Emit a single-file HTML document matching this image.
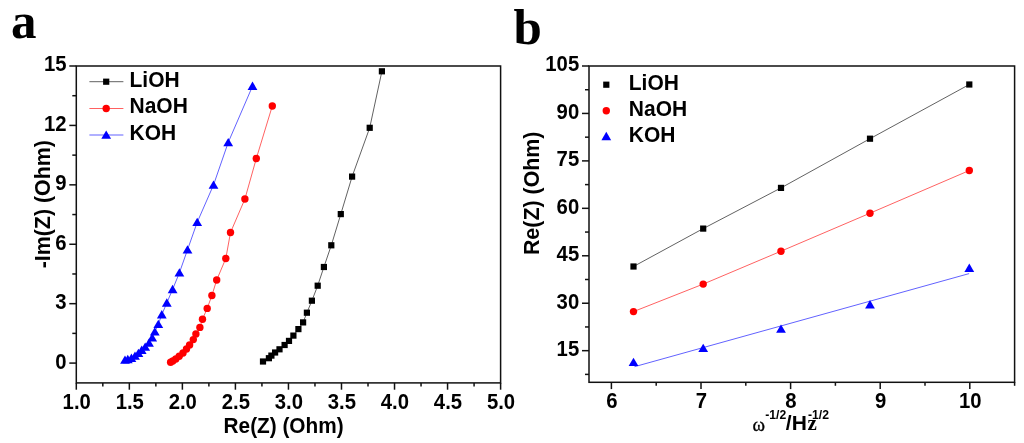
<!DOCTYPE html>
<html><head><meta charset="utf-8"><style>
html,body{margin:0;padding:0;background:#fff;}
body{width:1024px;height:443px;overflow:hidden;}
svg{display:block;will-change:transform;}
.sr{font-family:"Liberation Serif", serif;fill:#000;}
.t{font-family:"Liberation Sans", sans-serif;font-weight:bold;font-size:21px;fill:#000;}
</style></head><body>
<svg width="1024" height="443" viewBox="0 0 1024 443">
<rect x="76.3" y="66.0" width="424.3" height="316.9" fill="none" stroke="#111" stroke-width="1.5"/>
<line x1="69.3" y1="363.09" x2="76.3" y2="363.09" stroke="#111" stroke-width="1.5"/>
<text transform="translate(66.5,368.56) scale(1,1.1)" text-anchor="end" class="t" style="font-size:20.3px">0</text>
<line x1="69.3" y1="303.67" x2="76.3" y2="303.67" stroke="#111" stroke-width="1.5"/>
<text transform="translate(66.5,309.05) scale(1,1.1)" text-anchor="end" class="t" style="font-size:20.3px">3</text>
<line x1="69.3" y1="244.26" x2="76.3" y2="244.26" stroke="#111" stroke-width="1.5"/>
<text transform="translate(66.5,249.54) scale(1,1.1)" text-anchor="end" class="t" style="font-size:20.3px">6</text>
<line x1="69.3" y1="184.84" x2="76.3" y2="184.84" stroke="#111" stroke-width="1.5"/>
<text transform="translate(66.5,190.02) scale(1,1.1)" text-anchor="end" class="t" style="font-size:20.3px">9</text>
<line x1="69.3" y1="125.42" x2="76.3" y2="125.42" stroke="#111" stroke-width="1.5"/>
<text transform="translate(66.5,130.51) scale(1,1.1)" text-anchor="end" class="t" style="font-size:20.3px">12</text>
<line x1="69.3" y1="66.00" x2="76.3" y2="66.00" stroke="#111" stroke-width="1.5"/>
<text transform="translate(66.5,71.00) scale(1,1.1)" text-anchor="end" class="t" style="font-size:20.3px">15</text>
<line x1="72.3" y1="333.38" x2="76.3" y2="333.38" stroke="#111" stroke-width="1.5"/>
<line x1="72.3" y1="273.97" x2="76.3" y2="273.97" stroke="#111" stroke-width="1.5"/>
<line x1="72.3" y1="214.55" x2="76.3" y2="214.55" stroke="#111" stroke-width="1.5"/>
<line x1="72.3" y1="155.13" x2="76.3" y2="155.13" stroke="#111" stroke-width="1.5"/>
<line x1="72.3" y1="95.71" x2="76.3" y2="95.71" stroke="#111" stroke-width="1.5"/>
<line x1="76.30" y1="382.9" x2="76.30" y2="389.7" stroke="#111" stroke-width="1.5"/>
<text transform="translate(76.70,409.00) scale(1,1.1)" text-anchor="middle" class="t" style="font-size:20.3px">1.0</text>
<line x1="129.34" y1="382.9" x2="129.34" y2="389.7" stroke="#111" stroke-width="1.5"/>
<text transform="translate(129.74,409.00) scale(1,1.1)" text-anchor="middle" class="t" style="font-size:20.3px">1.5</text>
<line x1="182.38" y1="382.9" x2="182.38" y2="389.7" stroke="#111" stroke-width="1.5"/>
<text transform="translate(182.78,409.00) scale(1,1.1)" text-anchor="middle" class="t" style="font-size:20.3px">2.0</text>
<line x1="235.41" y1="382.9" x2="235.41" y2="389.7" stroke="#111" stroke-width="1.5"/>
<text transform="translate(235.81,409.00) scale(1,1.1)" text-anchor="middle" class="t" style="font-size:20.3px">2.5</text>
<line x1="288.45" y1="382.9" x2="288.45" y2="389.7" stroke="#111" stroke-width="1.5"/>
<text transform="translate(288.85,409.00) scale(1,1.1)" text-anchor="middle" class="t" style="font-size:20.3px">3.0</text>
<line x1="341.49" y1="382.9" x2="341.49" y2="389.7" stroke="#111" stroke-width="1.5"/>
<text transform="translate(341.89,409.00) scale(1,1.1)" text-anchor="middle" class="t" style="font-size:20.3px">3.5</text>
<line x1="394.53" y1="382.9" x2="394.53" y2="389.7" stroke="#111" stroke-width="1.5"/>
<text transform="translate(394.93,409.00) scale(1,1.1)" text-anchor="middle" class="t" style="font-size:20.3px">4.0</text>
<line x1="447.56" y1="382.9" x2="447.56" y2="389.7" stroke="#111" stroke-width="1.5"/>
<text transform="translate(447.96,409.00) scale(1,1.1)" text-anchor="middle" class="t" style="font-size:20.3px">4.5</text>
<line x1="500.60" y1="382.9" x2="500.60" y2="389.7" stroke="#111" stroke-width="1.5"/>
<text transform="translate(501.00,409.00) scale(1,1.1)" text-anchor="middle" class="t" style="font-size:20.3px">5.0</text>
<line x1="102.82" y1="382.9" x2="102.82" y2="386.4" stroke="#111" stroke-width="1.5"/>
<line x1="155.86" y1="382.9" x2="155.86" y2="386.4" stroke="#111" stroke-width="1.5"/>
<line x1="208.89" y1="382.9" x2="208.89" y2="386.4" stroke="#111" stroke-width="1.5"/>
<line x1="261.93" y1="382.9" x2="261.93" y2="386.4" stroke="#111" stroke-width="1.5"/>
<line x1="314.97" y1="382.9" x2="314.97" y2="386.4" stroke="#111" stroke-width="1.5"/>
<line x1="368.01" y1="382.9" x2="368.01" y2="386.4" stroke="#111" stroke-width="1.5"/>
<line x1="421.04" y1="382.9" x2="421.04" y2="386.4" stroke="#111" stroke-width="1.5"/>
<line x1="474.08" y1="382.9" x2="474.08" y2="386.4" stroke="#111" stroke-width="1.5"/>
<rect x="589.0" y="66.0" width="425.6" height="316.3" fill="none" stroke="#111" stroke-width="1.5"/>
<line x1="582.0" y1="350.67" x2="589.0" y2="350.67" stroke="#111" stroke-width="1.5"/>
<text transform="translate(579.2,356.12) scale(1,1.1)" text-anchor="end" class="t" style="font-size:20.3px">15</text>
<line x1="582.0" y1="303.23" x2="589.0" y2="303.23" stroke="#111" stroke-width="1.5"/>
<text transform="translate(579.2,308.60) scale(1,1.1)" text-anchor="end" class="t" style="font-size:20.3px">30</text>
<line x1="582.0" y1="255.78" x2="589.0" y2="255.78" stroke="#111" stroke-width="1.5"/>
<text transform="translate(579.2,261.08) scale(1,1.1)" text-anchor="end" class="t" style="font-size:20.3px">45</text>
<line x1="582.0" y1="208.33" x2="589.0" y2="208.33" stroke="#111" stroke-width="1.5"/>
<text transform="translate(579.2,213.56) scale(1,1.1)" text-anchor="end" class="t" style="font-size:20.3px">60</text>
<line x1="582.0" y1="160.89" x2="589.0" y2="160.89" stroke="#111" stroke-width="1.5"/>
<text transform="translate(579.2,166.04) scale(1,1.1)" text-anchor="end" class="t" style="font-size:20.3px">75</text>
<line x1="582.0" y1="113.44" x2="589.0" y2="113.44" stroke="#111" stroke-width="1.5"/>
<text transform="translate(579.2,118.52) scale(1,1.1)" text-anchor="end" class="t" style="font-size:20.3px">90</text>
<line x1="582.0" y1="66.00" x2="589.0" y2="66.00" stroke="#111" stroke-width="1.5"/>
<text transform="translate(579.2,71.00) scale(1,1.1)" text-anchor="end" class="t" style="font-size:20.3px">105</text>
<line x1="585.0" y1="374.39" x2="589.0" y2="374.39" stroke="#111" stroke-width="1.5"/>
<line x1="585.0" y1="326.95" x2="589.0" y2="326.95" stroke="#111" stroke-width="1.5"/>
<line x1="585.0" y1="279.50" x2="589.0" y2="279.50" stroke="#111" stroke-width="1.5"/>
<line x1="585.0" y1="232.06" x2="589.0" y2="232.06" stroke="#111" stroke-width="1.5"/>
<line x1="585.0" y1="184.61" x2="589.0" y2="184.61" stroke="#111" stroke-width="1.5"/>
<line x1="585.0" y1="137.17" x2="589.0" y2="137.17" stroke="#111" stroke-width="1.5"/>
<line x1="585.0" y1="89.72" x2="589.0" y2="89.72" stroke="#111" stroke-width="1.5"/>
<line x1="611.40" y1="382.3" x2="611.40" y2="389.1" stroke="#111" stroke-width="1.5"/>
<text transform="translate(611.80,407.90) scale(1,1.1)" text-anchor="middle" class="t" style="font-size:20.3px">6</text>
<line x1="701.00" y1="382.3" x2="701.00" y2="389.1" stroke="#111" stroke-width="1.5"/>
<text transform="translate(701.40,407.90) scale(1,1.1)" text-anchor="middle" class="t" style="font-size:20.3px">7</text>
<line x1="790.60" y1="382.3" x2="790.60" y2="389.1" stroke="#111" stroke-width="1.5"/>
<text transform="translate(791.00,407.90) scale(1,1.1)" text-anchor="middle" class="t" style="font-size:20.3px">8</text>
<line x1="880.20" y1="382.3" x2="880.20" y2="389.1" stroke="#111" stroke-width="1.5"/>
<text transform="translate(880.60,407.90) scale(1,1.1)" text-anchor="middle" class="t" style="font-size:20.3px">9</text>
<line x1="969.80" y1="382.3" x2="969.80" y2="389.1" stroke="#111" stroke-width="1.5"/>
<text transform="translate(970.20,407.90) scale(1,1.1)" text-anchor="middle" class="t" style="font-size:20.3px">10</text>
<line x1="656.20" y1="382.3" x2="656.20" y2="385.8" stroke="#111" stroke-width="1.5"/>
<line x1="745.80" y1="382.3" x2="745.80" y2="385.8" stroke="#111" stroke-width="1.5"/>
<line x1="835.40" y1="382.3" x2="835.40" y2="385.8" stroke="#111" stroke-width="1.5"/>
<line x1="925.00" y1="382.3" x2="925.00" y2="385.8" stroke="#111" stroke-width="1.5"/>
<line x1="1014.60" y1="382.3" x2="1014.60" y2="385.8" stroke="#111" stroke-width="1.5"/>
<polyline points="381.90,71.30 369.70,127.80 352.10,176.60 340.80,214.10 331.30,245.30 323.90,267.00 317.70,285.70 311.90,300.70 306.90,312.70 303.10,322.40 298.40,329.10 293.40,335.60 289.00,340.90 284.60,345.00 279.50,349.30 275.10,352.50 271.40,355.60 268.90,358.20 263.00,361.50" fill="none" stroke="#000" stroke-width="1.0" stroke-opacity="0.62"/>
<polyline points="272.30,106.00 256.30,158.50 244.90,199.00 230.50,232.50 225.80,258.50 216.70,280.00 211.90,295.50 207.20,308.40 202.50,319.20 199.90,327.40 195.90,334.00 193.30,339.60 189.60,345.00 186.50,349.00 183.00,353.00 179.20,356.30 175.80,359.00 172.80,360.90 170.60,362.20" fill="none" stroke="#f00" stroke-width="1.0" stroke-opacity="0.62"/>
<polyline points="252.50,86.20 228.20,142.50 213.50,185.00 197.20,222.30 187.50,249.80 179.40,272.80 172.60,289.40 166.80,302.90 161.80,314.70 158.30,324.30 154.80,331.80 152.20,337.80 149.00,343.00 145.20,347.00 141.70,350.20 138.40,353.30 135.00,356.00 131.40,358.10 127.80,359.40 125.00,360.00" fill="none" stroke="#00f" stroke-width="1.0" stroke-opacity="0.62"/>
<rect x="378.80" y="68.20" width="6.2" height="6.2" fill="#000"/>
<rect x="366.60" y="124.70" width="6.2" height="6.2" fill="#000"/>
<rect x="349.00" y="173.50" width="6.2" height="6.2" fill="#000"/>
<rect x="337.70" y="211.00" width="6.2" height="6.2" fill="#000"/>
<rect x="328.20" y="242.20" width="6.2" height="6.2" fill="#000"/>
<rect x="320.80" y="263.90" width="6.2" height="6.2" fill="#000"/>
<rect x="314.60" y="282.60" width="6.2" height="6.2" fill="#000"/>
<rect x="308.80" y="297.60" width="6.2" height="6.2" fill="#000"/>
<rect x="303.80" y="309.60" width="6.2" height="6.2" fill="#000"/>
<rect x="300.00" y="319.30" width="6.2" height="6.2" fill="#000"/>
<rect x="295.30" y="326.00" width="6.2" height="6.2" fill="#000"/>
<rect x="290.30" y="332.50" width="6.2" height="6.2" fill="#000"/>
<rect x="285.90" y="337.80" width="6.2" height="6.2" fill="#000"/>
<rect x="281.50" y="341.90" width="6.2" height="6.2" fill="#000"/>
<rect x="276.40" y="346.20" width="6.2" height="6.2" fill="#000"/>
<rect x="272.00" y="349.40" width="6.2" height="6.2" fill="#000"/>
<rect x="268.30" y="352.50" width="6.2" height="6.2" fill="#000"/>
<rect x="265.80" y="355.10" width="6.2" height="6.2" fill="#000"/>
<rect x="259.90" y="358.40" width="6.2" height="6.2" fill="#000"/>
<circle cx="272.30" cy="106.00" r="3.7" fill="#f00"/>
<circle cx="256.30" cy="158.50" r="3.7" fill="#f00"/>
<circle cx="244.90" cy="199.00" r="3.7" fill="#f00"/>
<circle cx="230.50" cy="232.50" r="3.7" fill="#f00"/>
<circle cx="225.80" cy="258.50" r="3.7" fill="#f00"/>
<circle cx="216.70" cy="280.00" r="3.7" fill="#f00"/>
<circle cx="211.90" cy="295.50" r="3.7" fill="#f00"/>
<circle cx="207.20" cy="308.40" r="3.7" fill="#f00"/>
<circle cx="202.50" cy="319.20" r="3.7" fill="#f00"/>
<circle cx="199.90" cy="327.40" r="3.7" fill="#f00"/>
<circle cx="195.90" cy="334.00" r="3.7" fill="#f00"/>
<circle cx="193.30" cy="339.60" r="3.7" fill="#f00"/>
<circle cx="189.60" cy="345.00" r="3.7" fill="#f00"/>
<circle cx="186.50" cy="349.00" r="3.7" fill="#f00"/>
<circle cx="183.00" cy="353.00" r="3.7" fill="#f00"/>
<circle cx="179.20" cy="356.30" r="3.7" fill="#f00"/>
<circle cx="175.80" cy="359.00" r="3.7" fill="#f00"/>
<circle cx="172.80" cy="360.90" r="3.7" fill="#f00"/>
<circle cx="170.60" cy="362.20" r="3.7" fill="#f00"/>
<polygon points="252.50,81.58 257.40,89.98 247.60,89.98" fill="#00f"/>
<polygon points="228.20,137.88 233.10,146.28 223.30,146.28" fill="#00f"/>
<polygon points="213.50,180.38 218.40,188.78 208.60,188.78" fill="#00f"/>
<polygon points="197.20,217.68 202.10,226.08 192.30,226.08" fill="#00f"/>
<polygon points="187.50,245.18 192.40,253.58 182.60,253.58" fill="#00f"/>
<polygon points="179.40,268.18 184.30,276.58 174.50,276.58" fill="#00f"/>
<polygon points="172.60,284.78 177.50,293.18 167.70,293.18" fill="#00f"/>
<polygon points="166.80,298.28 171.70,306.68 161.90,306.68" fill="#00f"/>
<polygon points="161.80,310.08 166.70,318.48 156.90,318.48" fill="#00f"/>
<polygon points="158.30,319.68 163.20,328.08 153.40,328.08" fill="#00f"/>
<polygon points="154.80,327.18 159.70,335.58 149.90,335.58" fill="#00f"/>
<polygon points="152.20,333.18 157.10,341.58 147.30,341.58" fill="#00f"/>
<polygon points="149.00,338.38 153.90,346.78 144.10,346.78" fill="#00f"/>
<polygon points="145.20,342.38 150.10,350.78 140.30,350.78" fill="#00f"/>
<polygon points="141.70,345.58 146.60,353.98 136.80,353.98" fill="#00f"/>
<polygon points="138.40,348.68 143.30,357.08 133.50,357.08" fill="#00f"/>
<polygon points="135.00,351.38 139.90,359.78 130.10,359.78" fill="#00f"/>
<polygon points="131.40,353.48 136.30,361.88 126.50,361.88" fill="#00f"/>
<polygon points="127.80,354.78 132.70,363.18 122.90,363.18" fill="#00f"/>
<polygon points="125.00,355.38 129.90,363.78 120.10,363.78" fill="#00f"/>
<polyline points="633.50,266.50 703.20,228.60 781.00,187.90 870.00,138.70 969.30,84.50" fill="none" stroke="#000" stroke-width="1.0" stroke-opacity="0.62"/>
<polyline points="633.50,311.60 703.20,284.10 781.00,251.20 870.00,213.20 969.30,170.50" fill="none" stroke="#f00" stroke-width="1.0" stroke-opacity="0.62"/>
<polyline points="634.50,366.70 969.10,273.60" fill="none" stroke="#00f" stroke-width="1.0" stroke-opacity="0.62"/>
<rect x="630.40" y="263.40" width="6.2" height="6.2" fill="#000"/>
<rect x="700.10" y="225.50" width="6.2" height="6.2" fill="#000"/>
<rect x="777.90" y="184.80" width="6.2" height="6.2" fill="#000"/>
<rect x="866.90" y="135.60" width="6.2" height="6.2" fill="#000"/>
<rect x="966.20" y="81.40" width="6.2" height="6.2" fill="#000"/>
<circle cx="633.50" cy="311.60" r="3.7" fill="#f00"/>
<circle cx="703.20" cy="284.10" r="3.7" fill="#f00"/>
<circle cx="781.00" cy="251.20" r="3.7" fill="#f00"/>
<circle cx="870.00" cy="213.20" r="3.7" fill="#f00"/>
<circle cx="969.30" cy="170.50" r="3.7" fill="#f00"/>
<polygon points="633.50,357.68 638.40,366.08 628.60,366.08" fill="#00f"/>
<polygon points="703.20,343.68 708.10,352.08 698.30,352.08" fill="#00f"/>
<polygon points="781.00,324.38 785.90,332.78 776.10,332.78" fill="#00f"/>
<polygon points="870.00,299.98 874.90,308.38 865.10,308.38" fill="#00f"/>
<polygon points="969.30,263.58 974.20,271.98 964.40,271.98" fill="#00f"/>
<line x1="89.4" y1="81.7" x2="123.4" y2="81.7" stroke="#000" stroke-width="1" stroke-opacity="0.62"/>
<rect x="103.10" y="78.60" width="6.2" height="6.2" fill="#000"/>
<text transform="translate(129.5,86.6) scale(1,1.06)" class="t">LiOH</text>
<line x1="89.4" y1="108.5" x2="123.4" y2="108.5" stroke="#f00" stroke-width="1" stroke-opacity="0.62"/>
<circle cx="106.20" cy="108.50" r="3.7" fill="#f00"/>
<text transform="translate(129.5,113.4) scale(1,1.06)" class="t">NaOH</text>
<line x1="89.4" y1="135.0" x2="123.4" y2="135.0" stroke="#00f" stroke-width="1" stroke-opacity="0.62"/>
<polygon points="106.20,130.38 111.10,138.78 101.30,138.78" fill="#00f"/>
<text transform="translate(129.5,139.9) scale(1,1.06)" class="t">KOH</text>
<rect x="603.20" y="81.60" width="6.2" height="6.2" fill="#000"/>
<text transform="translate(628.8,90.3) scale(1,1.06)" class="t">LiOH</text>
<circle cx="606.30" cy="110.80" r="3.7" fill="#f00"/>
<text transform="translate(628.8,115.9) scale(1,1.06)" class="t">NaOH</text>
<polygon points="606.30,131.78 611.20,140.18 601.40,140.18" fill="#00f"/>
<text transform="translate(628.8,141.8) scale(1,1.06)" class="t">KOH</text>
<text transform="translate(283.6,432.8) scale(1,1.06)" text-anchor="middle" class="t" style="font-size:20.8px">Re(Z) (Ohm)</text>
<text transform="translate(49.8,204.2) rotate(-90)" text-anchor="middle" class="t" style="font-size:21.4px">-Im(Z) (Ohm)</text>
<text transform="translate(538.9,193.3) rotate(-90)" text-anchor="middle" class="t" style="font-size:21.4px">Re(Z) (Ohm)</text>
<text x="752.6" y="430.6" class="sr" style="font-size:19px;stroke:#000;stroke-width:0.35px">ω</text>
<text x="765.2" y="418.9" class="t" style="font-size:12.2px">-1/2</text>
<text x="785.8" y="430.4" class="t">/H</text>
<text x="807.4" y="430.4" class="sr" style="font-size:21px;font-weight:bold">z</text>
<text x="808.0" y="418.9" class="t" style="font-size:12.2px">-1/2</text>
<text x="11" y="38.3" class="sr" style="font-weight:bold;font-size:51px">a</text>
<text x="513.5" y="44.1" class="sr" style="font-weight:bold;font-size:51px">b</text>
</svg>
</body></html>
